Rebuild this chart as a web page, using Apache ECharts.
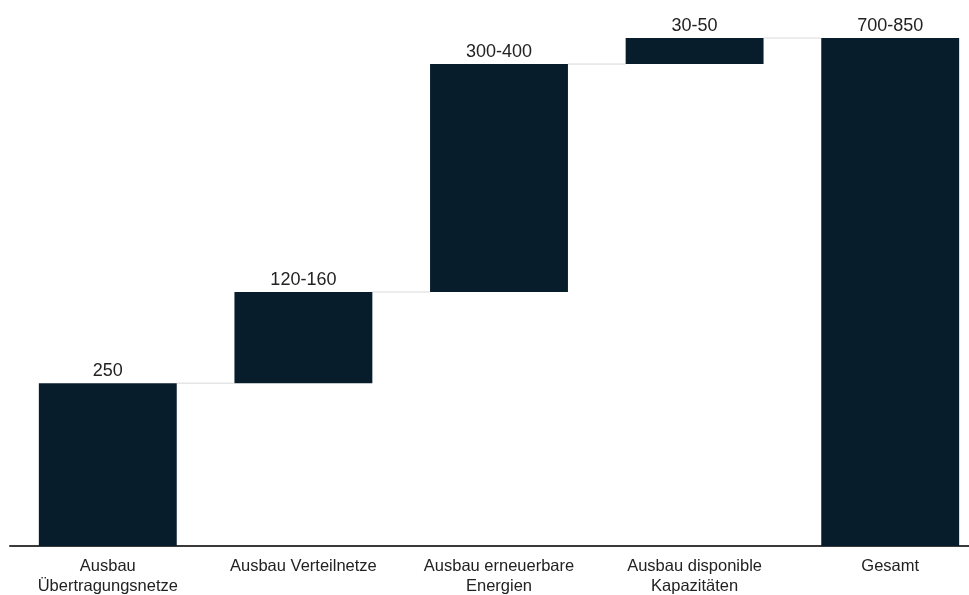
<!DOCTYPE html>
<html>
<head>
<meta charset="utf-8">
<script src="https://cdn.jsdelivr.net/npm/echarts@6/dist/echarts.min.js"></script>
<style>
html,body{margin:0;padding:0;background:#fff;}
#chart{width:969px;height:595px;}
</style>
</head>
<body>
<div id="chart"></div>
<script>
const categories = ['Ausbau\nÜbertragungsnetze', 'Ausbau Verteilnetze', 'Ausbau erneuerbare\nEnergien', 'Ausbau disponible\nKapazitäten', 'Gesamt'];
const stepValues = [250, 140, 350, 40];
const totalValue = 780;
const valueLabels = ['250', '120-160', '300-400', '30-50', '700-850'];

// build waterfall table
const baseData = [];
const barData = [];
let cum = 0;
stepValues.forEach(v => { baseData.push(cum); barData.push(v); cum += v; });
baseData.push(0); barData.push(totalValue);
const levels = [];
for (let i = 0; i < barData.length - 1; i++) levels.push([i, baseData[i] + barData[i]]);

const BAR_RATIO = 0.705;
const chart = echarts.init(document.getElementById('chart'));
chart.setOption({
  animation: false,
  grid: { left: 10, width: 978, top: 25, bottom: 49, outerBoundsMode: 'none', containLabel: false },
  xAxis: {
    type: 'category',
    data: categories,
    axisLine: { show: true, lineStyle: { color: '#3a3a3a', width: 2 } },
    axisTick: { show: false },
    axisLabel: { color: '#222', fontSize: 16.5, fontFamily: 'Liberation Sans', lineHeight: 20, margin: 10, interval: 0 }
  },
  yAxis: { type: 'value', min: 0, max: 800, show: false, splitLine: { show: false } },
  series: [
    { type: 'bar', stack: 'w', data: baseData, itemStyle: { color: 'transparent' }, barWidth: (BAR_RATIO * 100) + '%', silent: true },
    {
      type: 'bar', stack: 'w', data: barData,
      itemStyle: { color: '#071d2c' },
      label: {
        show: true, position: 'top', distance: 3,
        color: '#222', fontSize: 18, fontFamily: 'Liberation Sans',
        formatter: p => valueLabels[p.dataIndex]
      }
    },
    {
      type: 'custom',
      data: levels,
      z: 1,
      renderItem: (params, api) => {
        const i = api.value(0), lv = api.value(1);
        const half = api.size([1, 0])[0] * BAR_RATIO / 2;
        const p1 = api.coord([i, lv]);
        const p2 = api.coord([i + 1, lv]);
        return { type: 'line', shape: { x1: p1[0] + half, y1: p1[1], x2: p2[0] - half, y2: p2[1] }, style: { stroke: '#d9d9d9', lineWidth: 1 } };
      }
    }
  ]
});
</script>
</body>
</html>
